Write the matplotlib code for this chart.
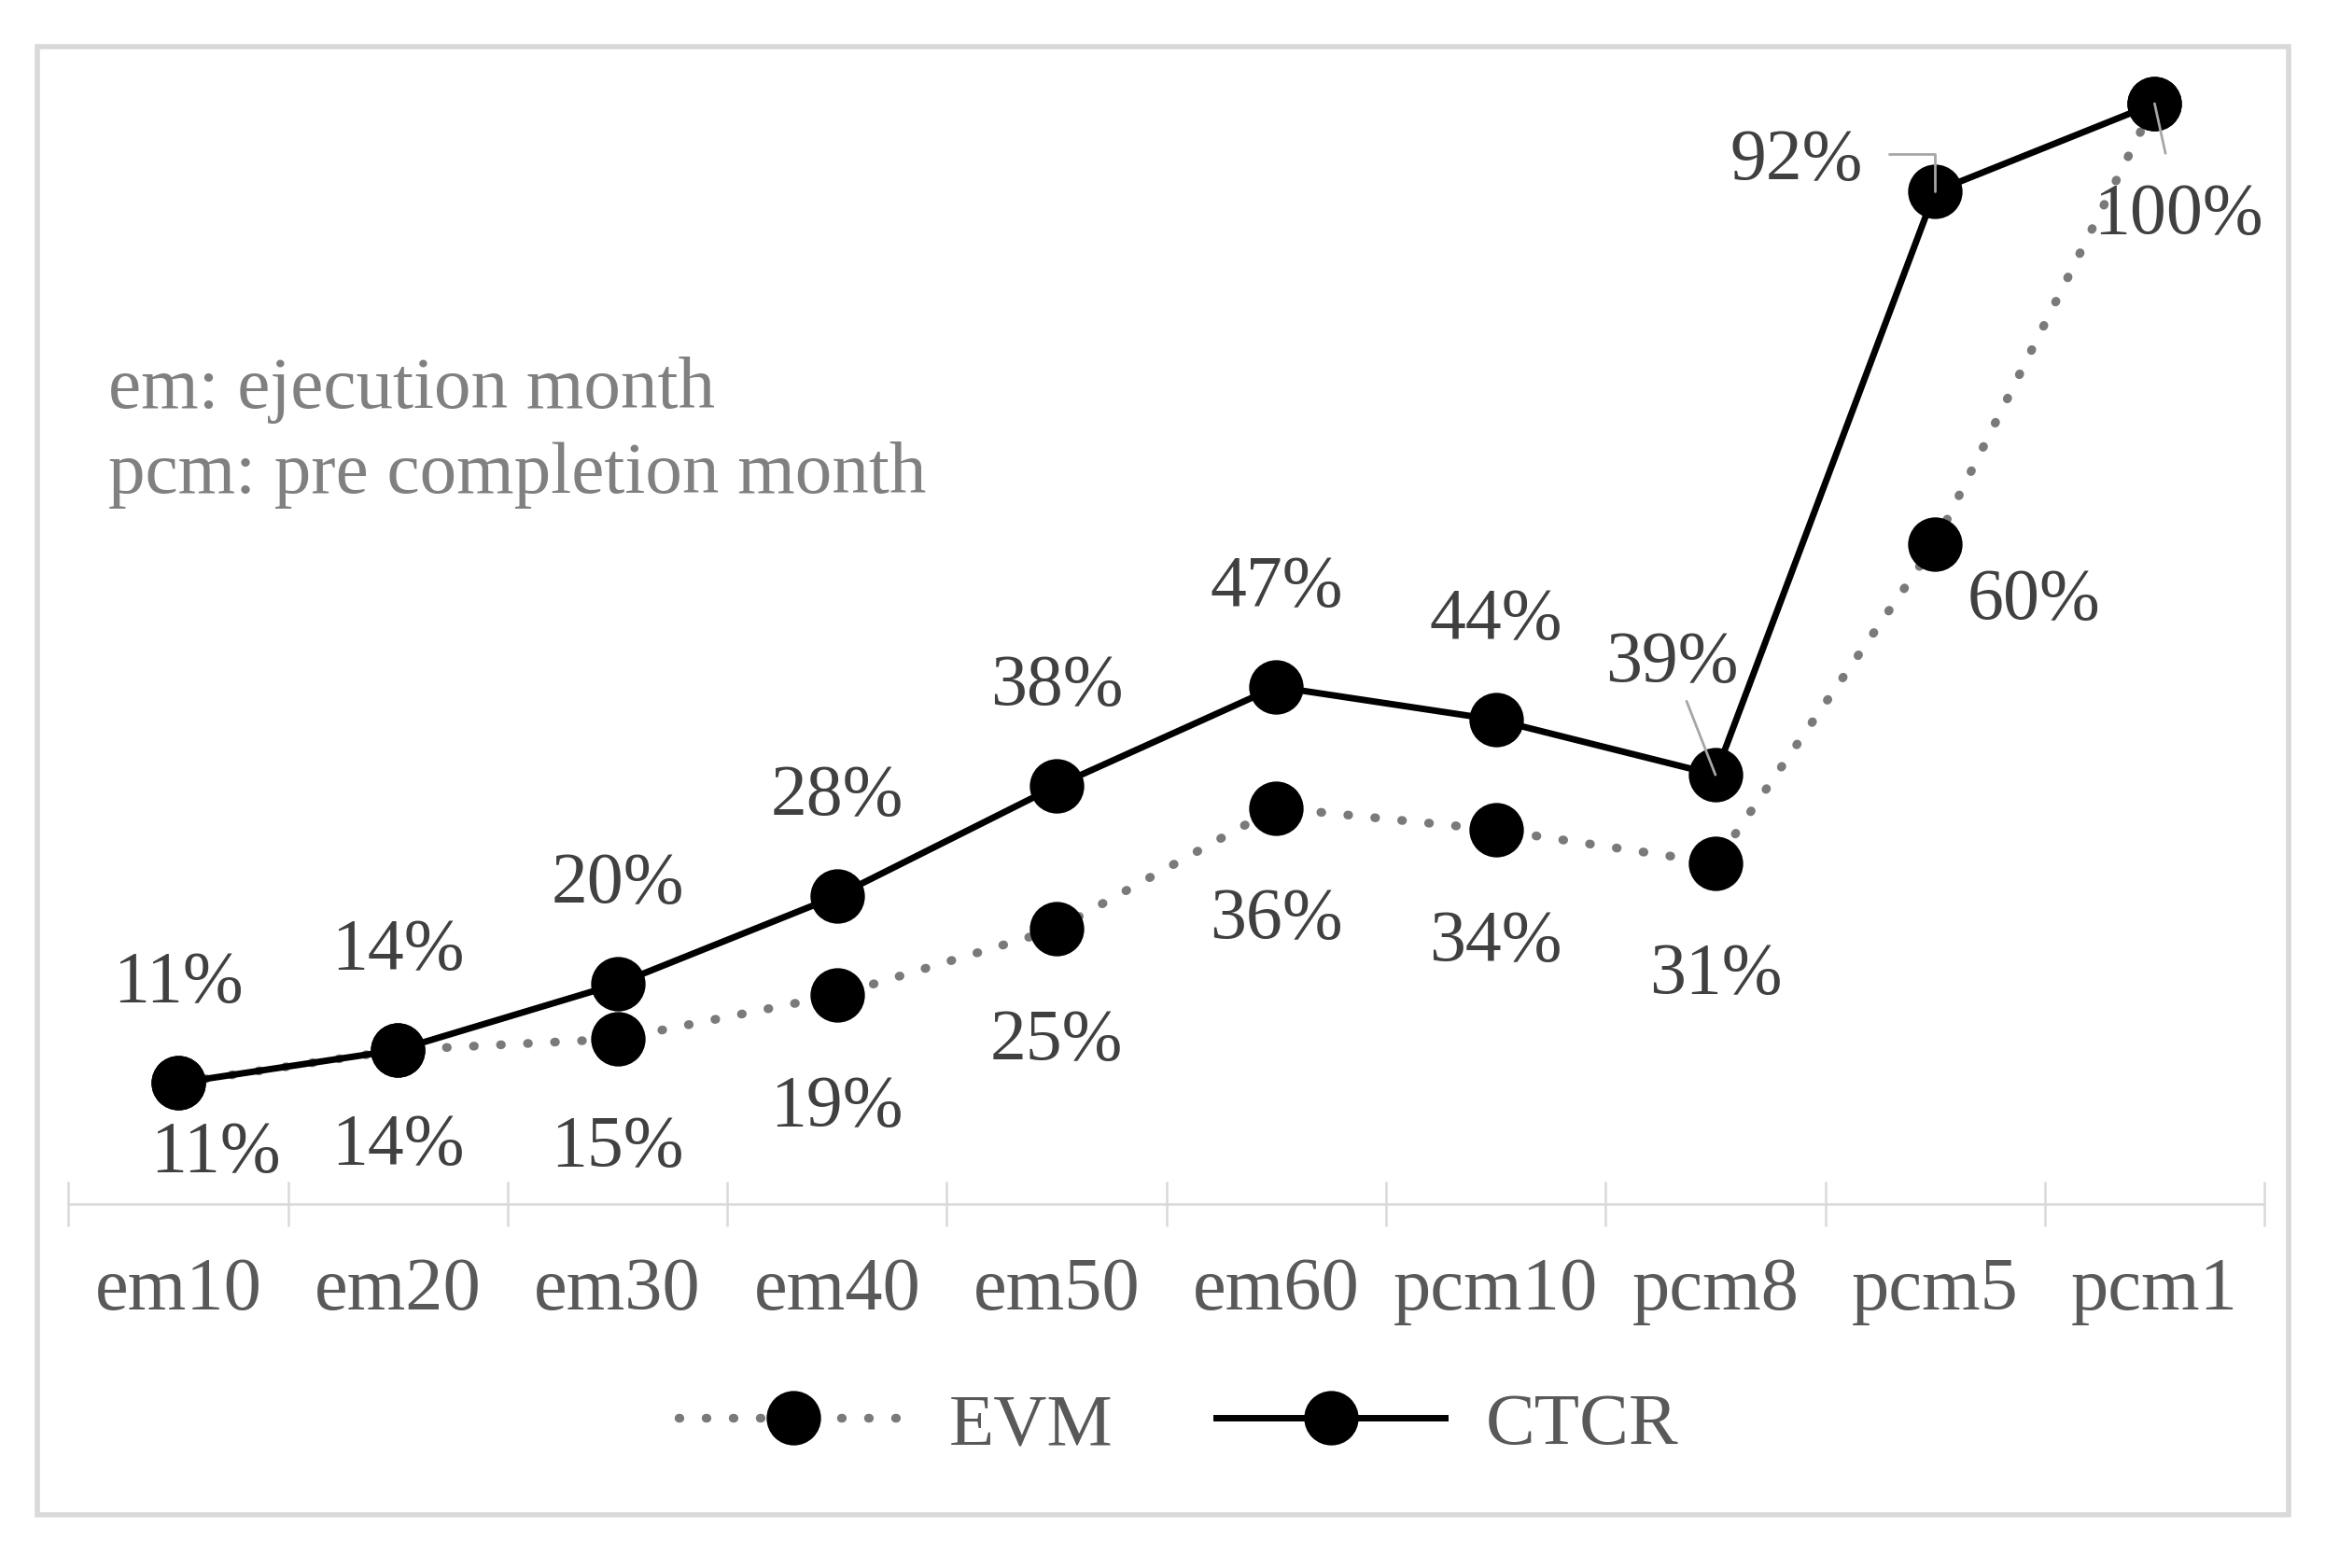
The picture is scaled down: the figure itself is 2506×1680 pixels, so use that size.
import matplotlib
matplotlib.use('Agg')
import matplotlib.pyplot as plt
from matplotlib.patches import Rectangle

# chart data (percent)
categories = ['em10', 'em20', 'em30', 'em40', 'em50', 'em60', 'pcm10', 'pcm8', 'pcm5', 'pcm1']
evm = [11, 14, 15, 19, 25, 36, 34, 31, 60, 100]
ctcr = [11, 14, 20, 28, 38, 47, 44, 39, 92, 100]
notes = ['em: ejecution month', 'pcm: pre completion month']

plt.rcParams['font.family'] = ['Liberation Serif', 'DejaVu Serif']

fig = plt.figure(figsize=(25.06, 16.81), dpi=100)
ax = fig.add_axes([0.0293, 0.2320, 0.9388, 0.7014])

x = list(range(len(categories)))

ax.plot(x, evm, color='#7a7a7a', lw=6.8, linestyle=(0, (0.1, 2.97)),
        dash_capstyle='round', marker='o', markersize=41,
        markerfacecolor='black', markeredgecolor='black',
        label='EVM', clip_on=False, zorder=3)
ax.plot(x, ctcr, color='black', lw=5, marker='o', markersize=41,
        label='CTCR', clip_on=False, zorder=4)

ax.set_xlim(-0.5, 9.5)
ax.set_ylim(0, 100)
for s in ['top', 'left', 'right']:
    ax.spines[s].set_visible(False)
ax.spines['bottom'].set_color('#d9d9d9')
ax.spines['bottom'].set_linewidth(1.8)
ax.set_yticks([])
ax.set_xticks(x)
ax.set_xticklabels(categories)
ax.set_xticks([i - 0.5 for i in range(len(categories) + 1)], minor=True)
ax.tick_params(axis='x', which='major', length=0, pad=40,
               labelsize=58, labelcolor='#595959')
ax.tick_params(axis='x', which='minor', direction='inout', length=35,
               width=1.8, color='#d9d9d9')

# label offsets in pixels (dx, dy)
ctcr_off = {i: (0, 107) for i in range(len(x))}
ctcr_off[7] = (-47, 120)
ctcr_off[8] = (-148, 33)
ctcr_off[9] = None  # hidden in the original
evm_off = {i: (0, -120) for i in range(len(x))}
evm_off[0] = (40, -75)
evm_off[1] = (0, -102)
evm_off[2] = (0, -116)
evm_off[8] = (106, -61)
evm_off[9] = (26, -119)

lead = dict(arrowstyle='-', color='#a6a6a6', lw=2)

for i, v in enumerate(ctcr):
    off = ctcr_off[i]
    if off is None:
        continue
    kw = {}
    if i == 7:
        kw['arrowprops'] = dict(lead, shrinkA=2, shrinkB=0)
    if i == 8:
        kw['arrowprops'] = dict(lead, shrinkA=18, shrinkB=0, relpos=(1, 0.6),
                                connectionstyle='angle,angleA=0,angleB=90,rad=0')
    ax.annotate(f'{v}%', (i, v), xytext=off, textcoords='offset pixels',
                ha='center', va='center', fontsize=56, color='#404040',
                annotation_clip=False, zorder=6, **kw)

for i, v in enumerate(evm):
    off = evm_off[i]
    kw = {}
    if i == 9:
        kw['arrowprops'] = dict(lead, shrinkA=20, shrinkB=0)
    ax.annotate(f'{v}%', (i, v), xytext=off, textcoords='offset pixels',
                ha='center', va='center', fontsize=56, color='#404040',
                annotation_clip=False, zorder=6, **kw)

fig.text(0.0463, 0.740, notes[0], fontsize=57, color='#808080', va='baseline')
fig.text(0.0463, 0.686, notes[1], fontsize=57, color='#808080', va='baseline')

leg = ax.legend(loc='center', bbox_to_anchor=(0.504, 0.091),
                bbox_transform=fig.transFigure, ncol=2, frameon=False,
                handlelength=3.1, handletextpad=0.55, columnspacing=1.4,
                fontsize=57, labelcolor='#595959')

# outer chart border
fig.patches.append(Rectangle((0.016, 0.0339), 0.9625, 0.9358,
                             transform=fig.transFigure, fill=False,
                             edgecolor='#d9d9d9', lw=4))

fig.savefig('out.png', dpi=100, facecolor='white')
